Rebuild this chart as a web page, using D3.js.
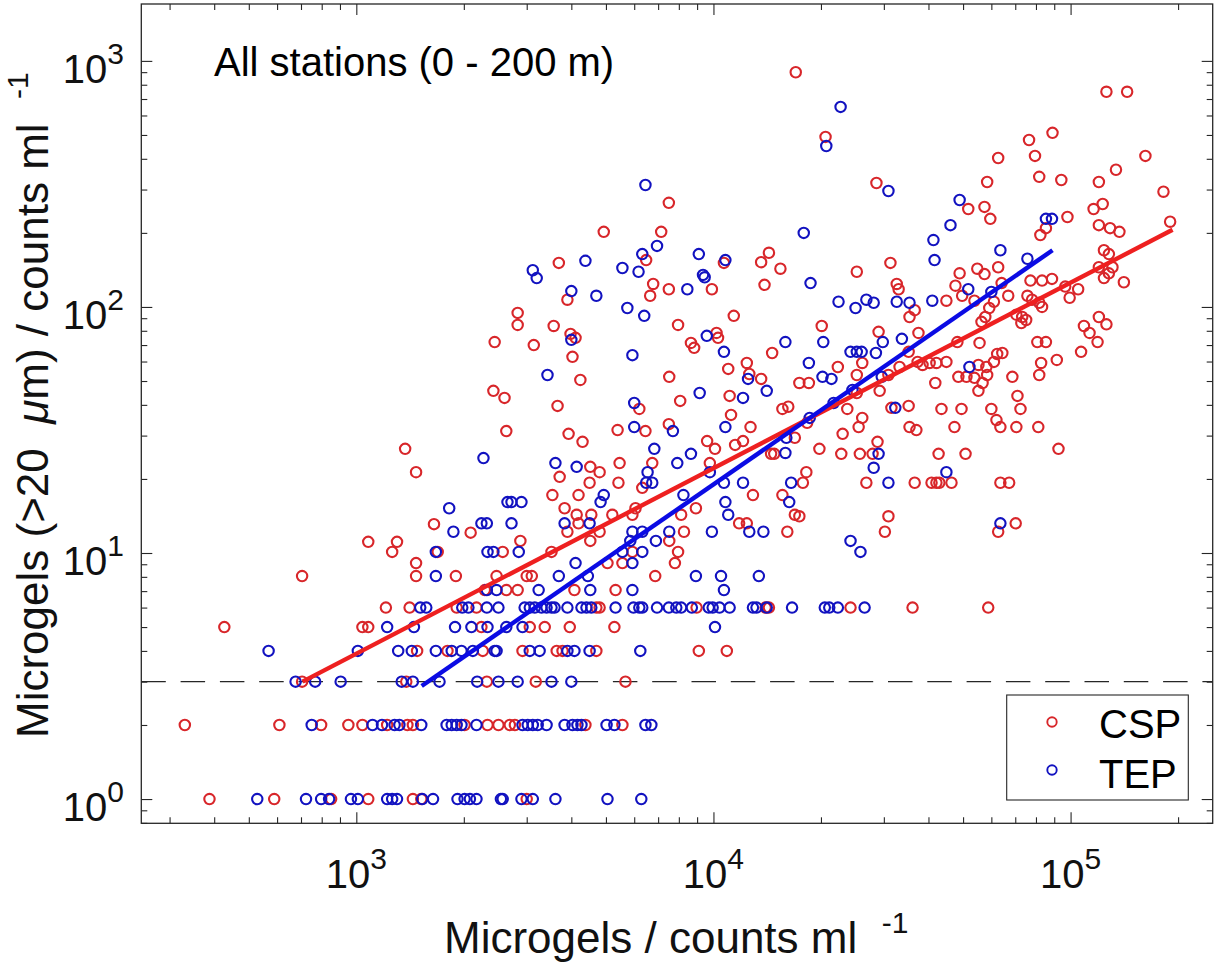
<!DOCTYPE html>
<html><head><meta charset="utf-8">
<script src="https://cdn.jsdelivr.net/npm/d3@7"></script>
<style>
body{margin:0;background:#fff}
svg{display:block}
text{font-family:"Liberation Sans",Arial,Helvetica,sans-serif;white-space:pre}
</style>
</head><body>
<svg id="chart" width="1218" height="966"></svg>
<script>
// ---------------- data ----------------
const seriesNames = ["CSP", "TEP"];
const titleText = "All stations (0 - 200 m)";
const xLabelText = "Microgels / counts ml";
const yLabelParts = ["Microgels (>20  ", "\u03bc", "m) / counts ml  "];
const unitExponent = "-1";
const xMajorTicks = [1e3, 1e4, 1e5];
const yMajorTicks = [1, 10, 100, 1000];
const detectionLimit = 3;

// regression lines (end points)
const cspFit = [[707, 3.0], [193000, 206]];
const tepFit = [[1524, 2.88], [89000, 170]];

// CSP  [microgels ml-1, microgels >20um ml-1]
const cspPoints = [
[388,1],[589,1],[850,1],[1080,1],[1440,1],[1520,1],[3000,1],
[331,2],[609,2],[797,2],[950,2],[1040,2],[1220,2],[1390,2],[1440,2],[2010,2],[2330,2],[2500,2],[2690,2],[2780,2],[4380,2],[5560,2],
[705,3],[1380,3],[2320,3],[3180,3],[5670,3],
[1480,4],[1800,4],[2260,4],[2920,4],[3640,4],[3780,4],[4700,4],[9100,4],[10900,4],
[427,5],[1040,5],[1080,5],[2240,5],[3060,5],[3370,5],[3960,5],[5280,5],
[1210,6],[1410,6],[1910,6],[2170,6],[4700,6],[4800,6],[8970,6],[14000,6],[14300,6],[24200,6],[36100,6],[58800,6],
[1370,26.5],[1470,21.3],[1650,13.1],[2090,12.1],[1080,11.1],[1300,11.1],[1260,10.1],[1690,10.1],[1470,9.1],[1470,8.06],[1900,8.06],[705,8.06],
[7500,265],[4930,202],[7140,202],[6480,155],[10700,151],[3690,151],[6780,124],[7500,118],[9900,118],[3900,107],[6650,111],[11400,92],[2830,94.6],[2830,84.5],[3570,83.7],[3980,77.7],[4110,74.9],[2440,72],[3140,70],[7960,84.5],[10200,78.4],[10300,74.9],[8650,71.4],[8830,68.2],[4030,62.7],[4240,50.5],[7520,52],[11000,56],[2420,45.6],[2600,42.7],[3660,39.6],[11100,43.5],[8070,41.5],[6200,38.5],[11200,36.4],[2630,31.3],[3930,30.5],[4300,28.3],[5390,31.6],[6450,31.3],[7500,33.4],[9600,28.5],[10100,26.5],[11500,27.5],[4520,22.4],[4800,21.3],[5460,23.2],[6740,23.2],[9770,23.2],[3710,20.4],
[4500,19.3],[5420,19.3],[6320,18.4],[17800,19.3],[3540,17.2],[4190,17.2],[12900,17.2],[15600,17.2],[8930,15.2],[3830,15.2],[6050,15.2],[4140,14.3],[4550,14.3],[5210,14.3],[5930,14.3],[8120,14.3],[16900,14.3],[4190,13.2],[11800,13.2],[12400,13.2],[3900,12.2],[4800,12.2],[8270,12.2],[16100,12.2],[2880,11.2],[4520,11.2],[7520,11.2],[2570,10.1],[3520,10.1],[5930,10.1],[7960,10.1],[5050,9.1],[5560,9.1],[7800,9.1],[2470,8.06],[3000,8.06],[3100,8.06],[6870,8.06],[2290,7.07],[2630,7.07],[2830,7.07],[4080,7.07],[5320,7.07],
[17000,899],[126000,749],[144000,749],[20600,491],[76500,477],[89000,510],[62700,403],[79500,411],[162000,411],[81700,338],[94200,328],[58400,322],[120000,322],[134000,361],[182000,294],[28600,319],[51700,250],[57400,255],[59600,228],[123000,262],[116000,250],[98000,232],[85300,209],[82300,196],[120000,215],[129000,209],[137000,202],[190000,222],[124000,170],[128000,164],
[13600,152],[14300,166],[15400,143],[13900,123],[25200,139],[31300,151],[48900,137],[54800,143],[57400,136],[62700,145],[32600,124],[33000,118],[47600,122],[49700,111],[64100,125],[66900,111],[77200,128],[83200,128],[88700,130],[75700,111],[78000,107],[83200,100],[81700,104],[96600,121],[105000,118],[99400,109],[120000,145],[131000,145],[128000,137],[124000,131],[141000,126],
[36600,97],[35400,91],[44900,106],[53800,106],[59200,99],[61000,105],[57700,91],[56300,87],[70500,93],[73200,91],[75100,88.5],[72800,86],[109000,83.7],[113000,78.4],[119000,72],[120000,91],[126000,85],[107000,65.7],[80700,72],[85300,72],[82700,59.2],[81700,52.9],[91500,60.9],[55600,71.4],[48200,72],[64400,65],[62300,64.4],[61000,59.8],[68700,52],[71000,43.5],[72400,38.5],[81200,32.5],[70500,32.5],[92500,26.5],[60000,38.5],[62000,34.7],[63600,32.5],[49500,38.5],[43500,38.5],[47300,32.5],[35200,39.6],[35400,32.5],[37000,31.6],[42700,25.3],[50800,25.3],[31500,38.9],[28800,28.3],[27900,25.3],[25700,25.3],[22800,25.3],[19800,26.5],[23000,30.5],[25500,32.5],[26100,35.4],[23700,38.5],[29200,45.6],[25200,44.7],[18300,33.8],[16900,29.4],[14500,25.3],[14800,25.3],[15600,38.5],[16200,39.3],[17400,49.1],[18500,49.1],[22300,57],[25200,52.9],[26100,59.2],[29000,79.2],[37500,78.4],[35200,65.7],[33200,57],[30900,52.9],[37300,59.8],[38500,58.1],[40300,59.2],[42100,59.2],[44900,59.8],[41800,49.1],[48500,52],[51100,52],[53800,51.5],[55200,58.1],[58100,57],[58400,52.9],[56700,49.1],[55200,45.6],[20100,83.7],[14600,65],[12400,59.2],[12600,53.4],[13600,51],[12700,32.5],[12100,28.5],
[18200,21.3],[26800,19.3],[36600,19.3],[40800,19.3],[42100,19.3],[42900,19.3],[46400,19.3],[63600,19.3],[67300,19.3],[17400,14.1],[30900,14.1],[30200,12.2],[62700,12.2],[70200,13.2]
];

// TEP
const tepPoints = [
[528,1],[723,1],[797,1],[839,1],[966,1],[1010,1],[1220,1],[1260,1],[1300,1],[1530,1],[1640,1],[1920,1],[2010,1],[2080,1],[2170,1],[2540,1],[2570,1],[2900,1],[3120,1],[3610,1],[5050,1],[6280,1],
[750,2],[1110,2],[1180,2],[1280,2],[1320,2],[1520,2],[1790,2],[1850,2],[1910,2],[1970,2],[2170,2],[2920,2],[3020,2],[3120,2],[3220,2],[3410,2],[3830,2],[4030,2],[4160,2],[4270,2],[5020,2],[5280,2],[6450,2],[6700,2],
[676,3],[767,3],[904,3],[1340,3],[1440,3],[1710,3],[2180,3],[2500,3],[2830,3],[3520,3],[4000,3],
[568,4],[1010,4],[1310,4],[1430,4],[1670,4],[1850,4],[1970,4],[2120,4],[2440,4],[2470,4],[3060,4],[3260,4],[3900,4],[4080,4],[4500,4],[6240,4],
[1220,5],[1450,5],[1890,5],[2100,5],[2330,5],[2630,5],[2920,5],[10100,5],
[1510,6],[1570,6],[1980,6],[2060,6],[2320,6],[2500,6],[2960,6],[3060,6],[3160,6],[3300,6],[3410,6],[3520,6],[3590,6],[3900,6],[4270,6],[4410,6],[4550,6],[5320,6],[5970,6],[6200,6],[6320,6],[6950,6],[7500,6],[7870,6],[8120,6],[8700,6],[9700,6],[9950,6],[10400,6],[11100,6],[12900,6],[13200,6],[14100,6],[16600,6],[20500,6],[21100,6],[22300,6],[26500,6],
[2270,24.3],[1820,15.2],[1870,12.2],[2240,13.2],[2320,13.2],[1670,10.1],[2330,10.1],[1670,8.06],[2320,7.07],
[6450,313],[6950,177],[6320,164],[9100,164],[10800,155],[3120,141],[3200,131],[4380,154],[5560,144],[6170,139],[9350,135],[9450,132],[8450,118],[4000,116],[4700,111],[5740,99],[6400,92],[4000,73.5],[9580,76.3],[10700,65.7],[5930,63.7],[3430,52.9],[9150,44.7],[6000,40.7],[6000,32.5],[7700,31.3],[10800,32.5],[3610,23.2],[4140,22.4],[6830,26.5],[7920,23.2],[8650,25.3],[9770,21.3],[6540,21.3],
[6480,19.3],[6740,19.3],[10700,19.3],[12100,19.3],[16500,19.3],[4930,17.2],[4830,16.1],[8240,17.2],[16300,16.1],[2650,16.1],[2720,16.1],[2900,16.1],[10800,16.1],[11000,14.3],[2720,13.2],[3830,13.2],[4500,13.2],[5930,12.2],[6320,12.2],[7520,12.2],[9900,12.2],[12600,12.2],[13800,12.2],[5850,11.2],[6900,11.2],[2420,10.1],[2850,10.1],[5560,10.1],[6320,10.1],[4110,9.1],[5930,9.1],[3690,8.06],[4450,8.06],[8930,8.06],[10500,8.06],[13400,8.06],[2470,7.07],[3240,7.07],[4520,7.07],[5930,7.07],[10700,7.07],
[22700,650],[20700,451],[30900,296],[48900,272],[85300,228],[88700,228],[46100,215],[41300,187],[17900,200],[41600,155],[63600,170],[75700,157],[18700,125],[51700,118],[60000,115],[22400,105],[25000,99],[26800,107],[28100,104],[32600,105],[35400,104],[41000,106],[32300,38.9],[29000,25.3],[24500,46],[21700,40.7],[18600,35.4],[16000,29.4],[15900,25.5],[20200,52],[21400,51],[18500,59.2],[24200,65.7],[25200,65.7],[26000,65.7],[28500,65],[29800,72],[33700,74.2],[29600,52],[52100,57],[20300,72],[15900,72],[12500,51],[14100,45.6],[12100,42.7],
[28100,22.2],[44900,21.3],[30900,19.3],[63600,13.2],[24200,11.2],[25800,10.1]
];

// ---------------- drawing ----------------
const colors = {cspMarker:"#d8262a", tepMarker:"#1212c0", cspLine:"#ee2020", tepLine:"#0b0be4", axis:"#262626", text:"#111"};
const markerR = 5.2, markerW = 2.1;
const box = {left:141.3, right:1212.7, top:4, bottom:823.3};
const svg = d3.select("#chart");

const x = d3.scaleLog().domain([250, 250000]).range([box.left, box.right]);
const y = d3.scaleLog().domain([0.797, 1703]).range([box.bottom, box.top]);

const isMajor = v => Math.abs(Math.log10(v) - Math.round(Math.log10(v))) < 1e-9;
const xMinor = x.ticks().filter(v => !isMajor(v));
const yMinor = y.ticks().filter(v => !isMajor(v));

function axis(gen, tx, ty, vals, len){
  svg.append("g").attr("transform", `translate(${tx},${ty})`)
    .call(gen.tickValues(vals).tickSizeInner(-len).tickSizeOuter(0).tickFormat(""))
    .call(g => { g.select(".domain").remove(); g.selectAll("line").attr("stroke", colors.axis).attr("stroke-width", 1.1); });
}
axis(d3.axisBottom(x), 0, box.bottom, xMajorTicks, 11);
axis(d3.axisBottom(x), 0, box.bottom, xMinor, 6);
axis(d3.axisTop(x), 0, box.top, xMajorTicks, 11);
axis(d3.axisTop(x), 0, box.top, xMinor, 6);
axis(d3.axisLeft(y), box.left, 0, yMajorTicks, 11);
axis(d3.axisLeft(y), box.left, 0, yMinor, 6);
axis(d3.axisRight(y), box.right, 0, yMajorTicks, 11);
axis(d3.axisRight(y), box.right, 0, yMinor, 6);

// dashed detection limit
svg.append("line")
  .attr("x1", x.range()[0]).attr("x2", x.range()[1])
  .attr("y1", y(detectionLimit)).attr("y2", y(detectionLimit))
  .attr("stroke", colors.axis).attr("stroke-width", 1.4).attr("stroke-dasharray", "24.5 14.8");

// scatter
function scatter(data, color){
  svg.append("g").selectAll("circle").data(data).join("circle")
    .attr("cx", d => x(d[0])).attr("cy", d => y(d[1])).attr("r", markerR)
    .attr("fill", "none").attr("stroke", color).attr("stroke-width", markerW);
}
scatter(cspPoints, colors.cspMarker);
scatter(tepPoints, colors.tepMarker);

// fit lines
const line = d3.line().x(d => x(d[0])).y(d => y(d[1]));
svg.append("path").attr("d", line(cspFit)).attr("stroke", colors.cspLine).attr("stroke-width", 4.4).attr("fill", "none");
svg.append("path").attr("d", line(tepFit)).attr("stroke", colors.tepLine).attr("stroke-width", 4.4).attr("fill", "none");

// frame
svg.append("rect").attr("x", box.left).attr("y", box.top)
  .attr("width", box.right - box.left).attr("height", box.bottom - box.top)
  .attr("fill", "none").attr("stroke", colors.axis).attr("stroke-width", 1.3);

// tick labels
xMajorTicks.forEach(v => {
  const t = svg.append("text").attr("x", x(v)).attr("y", 888).attr("text-anchor", "middle")
    .attr("font-size", 40).attr("fill", colors.text);
  t.append("tspan").text("10");
  t.append("tspan").attr("font-size", 30).attr("dy", -19).text(String(Math.round(Math.log10(v))));
});
yMajorTicks.forEach(v => {
  const t = svg.append("text").attr("x", 124).attr("y", y(v) + 22).attr("text-anchor", "end")
    .attr("font-size", 40).attr("fill", colors.text);
  t.append("tspan").text("10");
  t.append("tspan").attr("font-size", 30).attr("dy", -19).text(String(Math.round(Math.log10(v))));
});

// axis labels
const xl = svg.append("text").attr("x", 444).attr("y", 953).attr("font-size", 44).attr("fill", colors.text);
xl.append("tspan").text(xLabelText + "  ");
xl.append("tspan").attr("font-size", 30).attr("dy", -20).text(unitExponent);

const yl = svg.append("text").attr("transform", "translate(48,738) rotate(-90)").attr("font-size", 44).attr("fill", colors.text);
yl.append("tspan").text(yLabelParts[0]);
yl.append("tspan").attr("font-style", "italic").text(yLabelParts[1]);
yl.append("tspan").text(yLabelParts[2]);
yl.append("tspan").attr("font-size", 30).attr("dy", -20).text(unitExponent);

// title inside axes
svg.append("text").attr("x", 214).attr("y", 76).attr("font-size", 40).attr("fill", "#000").text(titleText);

// legend
const lg = svg.append("g");
lg.append("rect").attr("x", 1006.7).attr("y", 695).attr("width", 181.6).attr("height", 105)
  .attr("fill", "#fff").attr("stroke", colors.axis).attr("stroke-width", 1.1);
[[seriesNames[0], colors.cspMarker, 722, 738], [seriesNames[1], colors.tepMarker, 770, 788]].forEach(([name, col, cy, by]) => {
  lg.append("circle").attr("cx", 1052).attr("cy", cy).attr("r", 4.7).attr("fill", "none").attr("stroke", col).attr("stroke-width", 1.9);
  lg.append("text").attr("x", 1099).attr("y", by).attr("font-size", 40).attr("fill", "#000").text(name);
});
</script>
</body></html>
